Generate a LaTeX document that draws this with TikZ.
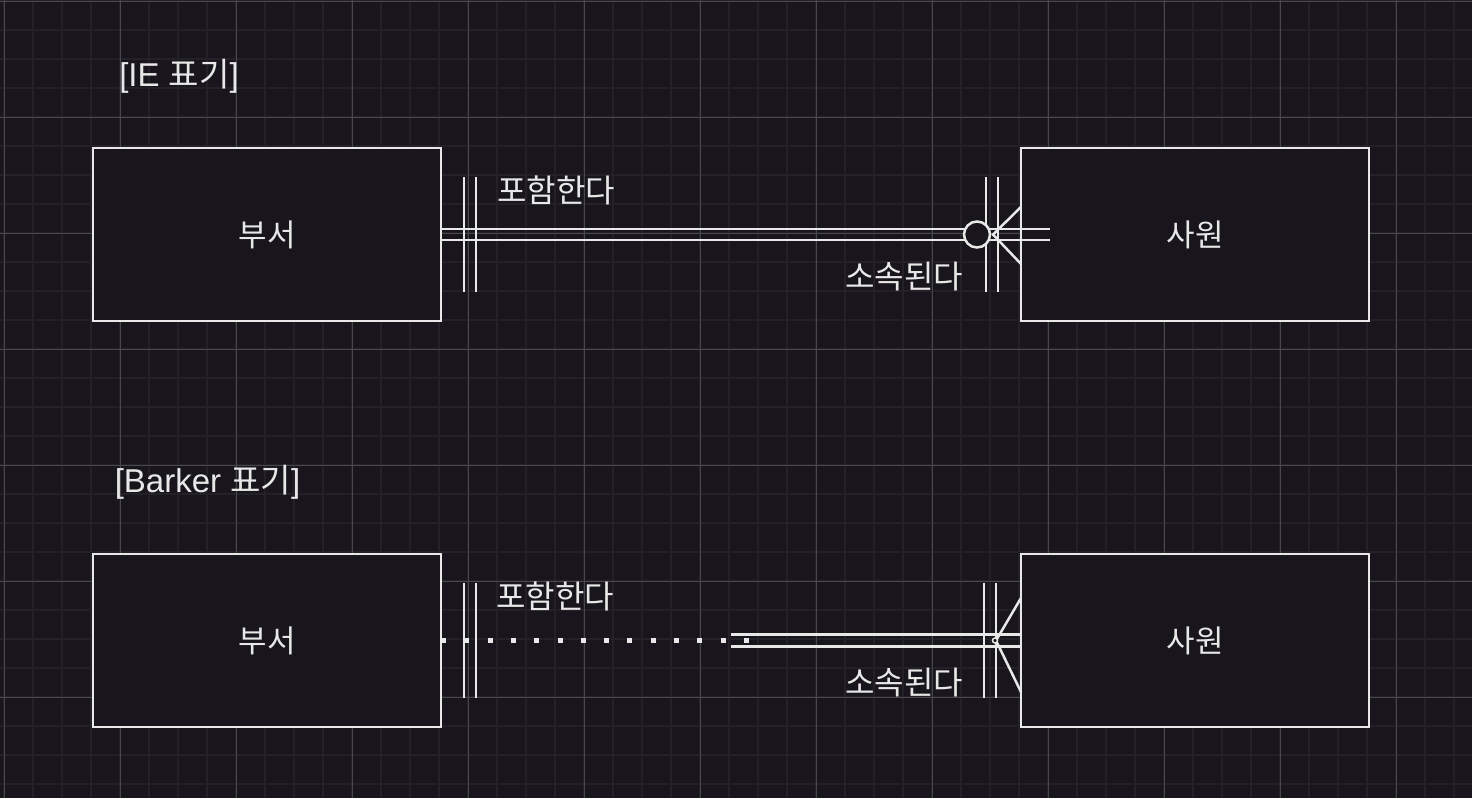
\documentclass[tikz,border=0pt]{standalone}
\usepackage{fontspec}
\setmainfont{Liberation Sans}
\newfontfamily\kr{Noto Sans CJK KR}
\definecolor{bg}{HTML}{18161C}
\definecolor{gminor}{HTML}{232127}
\definecolor{gmajor}{HTML}{48474C}
\definecolor{fg}{HTML}{E8E8E8}
\begin{document}
\begin{tikzpicture}[x=1pt,y=-1pt,
  entity/.style={draw=fg, fill=bg, line width=2.5pt, minimum width=348pt, minimum height=173pt,
    inner sep=0pt, outer sep=0pt, text=fg, font=\kr\fontsize{31}{37}\selectfont},
  lbl/.style={text=fg, inner sep=0pt, font=\kr\fontsize{32}{38}\selectfont},
  titletext/.style={text=fg, inner sep=0pt, font=\fontsize{33}{39}\selectfont},
  rel/.style={draw=fg, line width=2.5pt},
  dotrel/.style={draw=fg, line width=5pt, dash pattern=on 5pt off 18.3pt},
  ]
\useasboundingbox (0,0) rectangle (1472,798);
\fill[bg] (0,0) rectangle (1472,798);
% grid
\foreach \k in {0,...,50} \draw[gminor, line width=2pt] ({4+29*\k},0) -- ({4+29*\k},798);
\foreach \k in {0,...,27} \draw[gminor, line width=2pt] (0,{1+29*\k}) -- (1472,{1+29*\k});
\foreach \k in {0,...,12} \draw[gmajor, line width=1pt] ({4+116*\k},0) -- ({4+116*\k},798);
\foreach \k in {0,...,6} \draw[gmajor, line width=1pt] (0,{1+116*\k}) -- (1472,{1+116*\k});

% titles
\node[titletext] (t1) at (179,76) {[IE {\kr 표기}]};
\node[titletext] (t2) at (207.5,482) {[Barker {\kr 표기}]};

% entities
\node[entity] (d1) at (267,234.5) {부서};
\node[entity] (e1) at (1195,234.5) {사원};
\node[entity] (d2) at (267,640.5) {부서};
\node[entity] (e2) at (1195,640.5) {사원};

% ---- IE notation ----
\coordinate (ieend) at ([xshift=29pt]e1.west);
\draw[rel] ([yshift=5.5pt]d1.east) -- ([yshift=5.5pt]ieend);
\draw[rel] ([yshift=-5.5pt]d1.east) -- ([yshift=-5.5pt]ieend);
\draw[rel] ([xshift=23pt,yshift=57.5pt]d1.east) -- ([xshift=23pt,yshift=-57.5pt]d1.east);
\draw[rel] ([xshift=35pt,yshift=57.5pt]d1.east) -- ([xshift=35pt,yshift=-57.5pt]d1.east);
\draw[rel] ([xshift=-35pt,yshift=57.5pt]e1.west) -- ([xshift=-35pt,yshift=-57.5pt]e1.west);
\draw[rel] ([xshift=-23pt,yshift=57.5pt]e1.west) -- ([xshift=-23pt,yshift=-57.5pt]e1.west);
\draw[rel] ([yshift=27.5pt]e1.west) -- ([xshift=-28pt]e1.west) -- ([yshift=-29.5pt]e1.west);
\node[draw=fg, fill=bg, line width=2.5pt, circle, minimum size=26pt, inner sep=0pt] (o1) at ([xshift=-44pt]e1.west) {};
\node[lbl] (r1) at (556,190) {포함한다};
\node[lbl] (s1) at (904,277) {소속된다};

% ---- Barker notation ----
\coordinate (dotend) at ([xshift=308pt]d2.east);
\draw[dotrel] (d2.east) -- (dotend);
\coordinate (dblstart) at ([xshift=290pt]d2.east);
\draw[rel] ([yshift=6pt]dblstart) -- ([yshift=6pt]e2.west);
\draw[rel] ([yshift=-6pt]dblstart) -- ([yshift=-6pt]e2.west);
\draw[rel] ([xshift=23pt,yshift=57.5pt]d2.east) -- ([xshift=23pt,yshift=-57.5pt]d2.east);
\draw[rel] ([xshift=35pt,yshift=57.5pt]d2.east) -- ([xshift=35pt,yshift=-57.5pt]d2.east);
\draw[rel] ([xshift=-37pt,yshift=57.5pt]e2.west) -- ([xshift=-37pt,yshift=-57.5pt]e2.west);
\draw[rel] ([xshift=-25pt,yshift=57.5pt]e2.west) -- ([xshift=-25pt,yshift=-57.5pt]e2.west);
\draw[rel] ([yshift=42.5pt]e2.west) -- ([xshift=-25pt]e2.west) -- ([yshift=-51.5pt]e2.west);
\node[draw=fg, fill=bg, line width=1.5pt, circle, minimum size=5pt, inner sep=0pt] (o2) at ([xshift=-26pt]e2.west) {};
\node[lbl] (r2) at (555,596) {포함한다};
\node[lbl] (s2) at (904,683) {소속된다};
\end{tikzpicture}
\end{document}
